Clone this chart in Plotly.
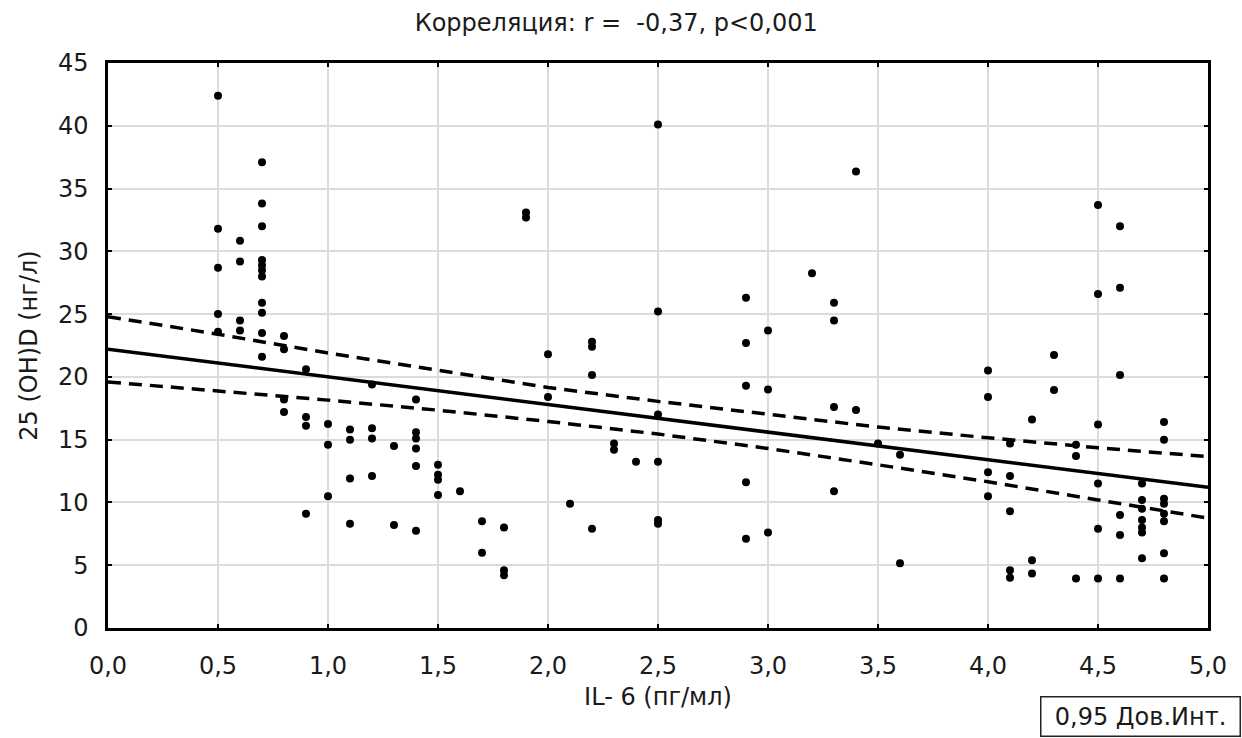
import plotly.graph_objects as go

# ---- data ----
il6 = ([0.5]*5 + [0.6]*4 + [0.7]*11 + [0.8]*4 + [0.9]*4 + [1.0]*3 + [1.1]*4 + [1.2]*4 +
       [1.3]*2 + [1.4]*6 + [1.5]*4 + [1.6] + [1.7]*2 + [1.8]*3 + [1.9]*2 + [2.0]*2 + [2.1] +
       [2.2]*4 + [2.3]*2 + [2.4] + [2.5]*6 + [2.9]*5 + [3.0]*3 + [3.2] + [3.3]*4 + [3.4]*2 +
       [3.5] + [3.6]*2 + [4.0]*4 + [4.1]*5 + [4.2]*3 + [4.3]*2 + [4.4]*3 + [4.5]*6 + [4.6]*6 +
       [4.7]*7 + [4.8]*8)
vitd = [42.4, 31.8, 28.7, 25.0, 23.6,
        30.85, 29.2, 24.5, 23.7,
        37.1, 33.8, 32.0, 29.3, 28.9, 28.5, 28.0, 25.9, 25.1, 23.5, 21.6,
        23.25, 22.2, 18.2, 17.2,
        20.6, 16.8, 16.1, 9.1,
        16.25, 14.6, 10.5,
        15.8, 15.0, 11.9, 8.3,
        19.4, 15.9, 15.1, 12.1,
        14.5, 8.2,
        18.2, 15.6, 15.1, 14.3, 12.9, 7.75,
        13.0, 12.2, 11.8, 10.6,
        10.9,
        8.5, 6.0,
        8.0, 4.6, 4.2,
        33.1, 32.7,
        21.8, 18.4,
        9.9,
        22.8, 22.4, 20.15, 7.9,
        14.7, 14.2,
        13.25,
        40.1, 25.2, 17.0, 13.25, 8.6, 8.3,
        26.3, 22.7, 19.3, 11.6, 7.1,
        23.7, 19.0, 7.6,
        28.25,
        25.9, 24.5, 17.6, 10.9,
        36.35, 17.36,
        14.7,
        13.8, 5.15,
        20.5, 18.4, 12.4, 10.5,
        14.7, 12.1, 9.3, 4.6, 4.0,
        16.6, 5.4, 4.35,
        21.75, 18.95,
        14.6, 13.7, 3.95,
        33.7, 26.6, 16.2, 11.5, 7.9, 3.95,
        32.0, 27.1, 20.15, 9.0, 7.4, 3.95,
        11.5, 10.2, 9.5, 8.6, 8.0, 7.6, 5.55,
        16.4, 15.0, 10.3, 9.9, 9.1, 8.5, 5.95, 3.95]

fit_x = [0.0, 0.5, 1.0, 1.5, 2.0, 2.5, 3.0, 3.5, 4.0, 4.5, 5.0]
fit_y = [22.2, 21.1, 20.0, 18.9, 17.8, 16.7, 15.6, 14.5, 13.4, 12.3, 11.2]
ci_upper = [24.8, 23.4, 21.9, 20.5, 19.15, 18.05, 17.0, 16.0, 15.15, 14.35, 13.65]
ci_lower = [19.6, 18.9, 18.15, 17.35, 16.45, 15.45, 14.3, 13.0, 11.65, 10.2, 8.75]

x_ticks = [0.0, 0.5, 1.0, 1.5, 2.0, 2.5, 3.0, 3.5, 4.0, 4.5, 5.0]
y_ticks = [0, 5, 10, 15, 20, 25, 30, 35, 40, 45]

title_text = "Корреляция: r =  -0,37, p<0,001"
x_title = "IL- 6 (пг/мл)"
y_title = "25 (OH)D (нг/л)"
legend_text = "0,95 Дов.Инт."

FONT = "DejaVu Sans, sans-serif"
FS = 24
TXT = "#1a1a1a"

fig = go.Figure()
fig.add_trace(go.Scatter(x=fit_x, y=ci_upper, mode="lines",
                         line=dict(color="black", width=3.5, dash="13px,8px"),
                         hoverinfo="skip", showlegend=False))
fig.add_trace(go.Scatter(x=fit_x, y=ci_lower, mode="lines",
                         line=dict(color="black", width=3.5, dash="13px,8px"),
                         hoverinfo="skip", showlegend=False))
fig.add_trace(go.Scatter(x=fit_x, y=fit_y, mode="lines",
                         line=dict(color="black", width=3.5),
                         showlegend=False))
fig.add_trace(go.Scatter(x=il6, y=vitd, mode="markers",
                         marker=dict(color="black", size=8, symbol="circle",
                                     line=dict(width=0)),
                         showlegend=False))

axis_common = dict(showline=True, linecolor="black", linewidth=2.5, mirror="ticks",
                   ticks="inside", ticklen=4, tickwidth=1.5, tickcolor="black",
                   showgrid=True, gridcolor="#dcdcdc", gridwidth=2,
                   zeroline=False, tickfont=dict(family=FONT, size=FS, color=TXT))

fig.update_xaxes(range=[0, 5], tickvals=x_ticks, tickformat=".1f",
                 title=dict(text=x_title, font=dict(family=FONT, size=FS, color=TXT),
                            standoff=10),
                 ticklabelstandoff=14, **axis_common)
fig.update_yaxes(range=[0, 45], tickvals=y_ticks,
                 title=dict(text=y_title, font=dict(family=FONT, size=FS, color=TXT),
                            standoff=14),
                 ticklabelstandoff=12, **axis_common)

fig.add_annotation(text=legend_text, xref="paper", yref="paper",
                   x=1.030, y=-0.1566, xanchor="right", yanchor="middle",
                   showarrow=False, font=dict(family=FONT, size=FS, color=TXT),
                   width=188, align="center",
                   bordercolor="#222222", borderwidth=1.5, borderpad=5, bgcolor="white")

fig.update_layout(
    width=1242, height=738,
    margin=dict(l=108, r=34, t=63, b=110),
    paper_bgcolor="white", plot_bgcolor="white",
    separators=", ",
    title=dict(text=title_text, xref="paper", x=0.462, xanchor="center",
               yref="container", y=0.969, yanchor="middle",
               font=dict(family=FONT, size=FS, color=TXT)),
)

fig.write_html("out.html")
